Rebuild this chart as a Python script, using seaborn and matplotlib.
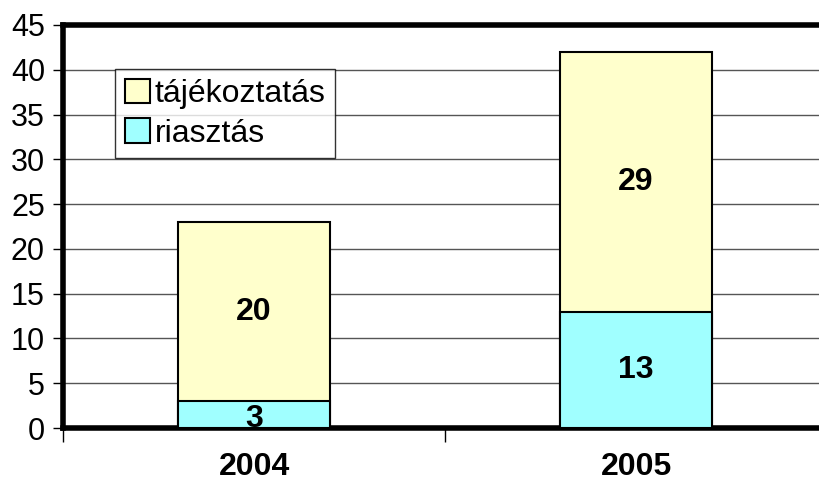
import seaborn as sns
import pandas as pd
import numpy as np
import matplotlib.pyplot as plt
from matplotlib.patches import Patch

# Data
years = ["2004", "2005"]
riasztas = [3, 13]
tajekoztatas = [20, 29]

totals = [r + t for r, t in zip(riasztas, tajekoztatas)]
data = pd.DataFrame({"ev": years, "riasztas": riasztas,
                     "tajekoztatas": tajekoztatas, "osszes": totals})

sns.set_style("white")
plt.rcParams['font.family'] = ['Liberation Sans', 'DejaVu Sans']
plt.rcParams['text.color'] = 'black'
plt.rcParams['xtick.color'] = 'black'
plt.rcParams['ytick.color'] = 'black'

col_taj = "#FFFFCC"
col_ria = "#A0FFFF"
fs = 23

fig = plt.figure(figsize=(8.19, 4.87), dpi=100)
ax = fig.add_axes([63 / 819, 1 - 428 / 487, (827 - 63) / 819, (428 - 25) / 487])

sns.barplot(data=data, x="ev", y="osszes", color=col_taj, width=0.4,
            edgecolor="black", linewidth=1.5, saturation=1, ax=ax, zorder=3)
sns.barplot(data=data, x="ev", y="riasztas", color=col_ria, width=0.4,
            edgecolor="black", linewidth=1.5, saturation=1, ax=ax, zorder=3)

ax.set_xlim(-0.5, 1.5)
ax.set_ylim(0, 45)
ax.set_yticks(np.arange(0, 46, 5))
ax.set_xlabel("")
ax.set_ylabel("")

# gridlines
for y in range(5, 45, 5):
    ax.axhline(y, color="#555555", linewidth=1, zorder=1)

for s in ["left", "bottom", "top"]:
    ax.spines[s].set_linewidth(4)
    ax.spines[s].set_color("black")
ax.spines["right"].set_visible(False)

ax.tick_params(axis="y", which="both", left=True, length=7, width=1,
               labelsize=fs - 1, pad=6, direction="out")
ax.set_xticks([])
ax.set_xticks([-0.5, 0.5, 1.5], minor=True)
ax.tick_params(axis="x", which="minor", bottom=True, length=10, width=1,
               direction="out")
ax.set_xticks([0, 1])
ax.set_xticklabels(years, fontsize=fs, fontweight="bold")
ax.tick_params(axis="x", which="major", bottom=False, pad=14)

# value labels
for i in range(len(years)):
    r = riasztas[i]
    t = tajekoztatas[i]
    ax.text(i, r / 2 - (0.5 if r < 5 else 0), str(r), ha="center", va="center",
            fontsize=fs, fontweight="bold", zorder=5)
    ax.text(i, r + t / 2, str(t), ha="center", va="center",
            fontsize=fs, fontweight="bold", zorder=5)

handles = [Patch(facecolor=col_taj, edgecolor="black", linewidth=1.5, label="tájékoztatás"),
           Patch(facecolor=col_ria, edgecolor="black", linewidth=1.5, label="riasztás")]
leg = ax.legend(handles=handles, loc="upper left", bbox_to_anchor=(52 / 764, (428 - 69) / 403),
                fontsize=fs, frameon=True, fancybox=False, handlelength=0.8, handleheight=0.8,
                handletextpad=0.15, borderpad=0.3, labelspacing=0.3, borderaxespad=0)
leg.get_frame().set_edgecolor("black")
leg.get_frame().set_linewidth(1)
leg.set_zorder(6)

plt.savefig("out.png", dpi=100)
